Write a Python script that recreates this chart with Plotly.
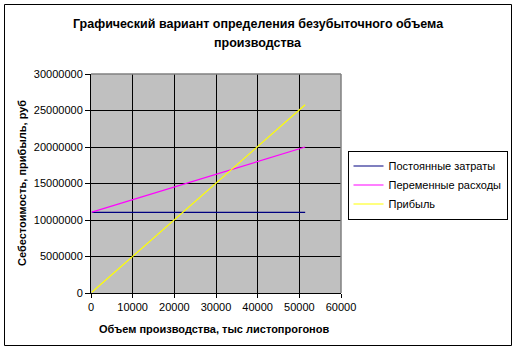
import plotly.graph_objects as go

# Data
volume = [200, 51400]                      # тыс листопрогонов
fixed_costs = [11050000, 11050000]         # Постоянные затраты
variable_costs = [11080000, 20000000]      # Переменные расходы
profit = [100000, 25780000]                # Прибыль

names = ["Постоянные затраты", "Переменные расходы", "Прибыль"]
colors = ["#000080", "#FF00FF", "#FFFF00"]
series = [fixed_costs, variable_costs, profit]

W, H = 517, 351
L, R, T, B = 91, 341, 74, 293

fig = go.Figure()
for n, c, s in zip(names, colors, series):
    fig.add_trace(go.Scatter(x=volume, y=s, mode="lines", name=n,
                             line=dict(color=c, width=1.2)))

def px(xp):
    return (xp - L) / (R - L)

def py(yp):
    return (B - yp) / (B - T)

font = "Liberation Sans, Arial, sans-serif"

fig.update_layout(
    width=W, height=H,
    margin=dict(l=L, r=W - R, t=T, b=H - B, pad=0, autoexpand=False),
    paper_bgcolor="white",
    plot_bgcolor="#C0C0C0",
    font=dict(family=font, size=11, color="black"),
    showlegend=True,
    legend=dict(
        x=px(507.5), y=py(185), xanchor="right", yanchor="middle",
        bgcolor="white", bordercolor="black", borderwidth=1,
        font=dict(size=11, family=font),
        tracegroupgap=0, itemwidth=30,
    ),
    xaxis=dict(
        range=[0, 60000], dtick=10000, tickformat="d",
        showgrid=True, gridcolor="black", gridwidth=1,
        showline=True, linecolor="black", linewidth=1,
        ticks="outside", ticklen=4, tickcolor="black",
        zeroline=False, fixedrange=True,
        tickfont=dict(size=11),
    ),
    yaxis=dict(
        range=[0, 30000000], dtick=5000000, tickformat="d",
        showgrid=True, gridcolor="black", gridwidth=1,
        showline=True, linecolor="black", linewidth=1,
        ticks="outside", ticklen=5, tickcolor="black",
        zeroline=False, fixedrange=True,
        tickfont=dict(size=11),
    ),
    shapes=[
        # outer chart border
        dict(type="rect", xref="paper", yref="paper",
             x0=px(4.5), x1=px(511.5), y0=py(345.5), y1=py(4.5),
             line=dict(color="black", width=1), layer="above"),
        # grey top / right edges of the plot area
        dict(type="line", xref="paper", yref="paper", x0=0, x1=1, y0=1, y1=1,
             line=dict(color="#808080", width=1.5), layer="above"),
        dict(type="line", xref="paper", yref="paper", x0=1, x1=1, y0=0, y1=1,
             line=dict(color="#808080", width=1.5), layer="above"),
    ],
    annotations=[
        dict(text="<b>Графический вариант определения безубыточного объема</b>",
             xref="paper", yref="paper", x=px(258), y=py(24),
             xanchor="center", yanchor="middle", showarrow=False,
             font=dict(size=12.5, family=font)),
        dict(text="<b>производства</b>",
             xref="paper", yref="paper", x=px(258), y=py(43),
             xanchor="center", yanchor="middle", showarrow=False,
             font=dict(size=12.5, family=font)),
        dict(text="<b>Объем производства, тыс листопрогонов</b>",
             xref="paper", yref="paper", x=px(214), y=py(329),
             xanchor="center", yanchor="middle", showarrow=False,
             font=dict(size=11, family=font)),
        dict(text="<b>Себестоимость, прибыль, руб</b>",
             xref="paper", yref="paper", x=px(22), y=py(183),
             xanchor="center", yanchor="middle", showarrow=False,
             textangle=-90, font=dict(size=11, family=font)),
    ],
)

fig.write_html("out.html")
